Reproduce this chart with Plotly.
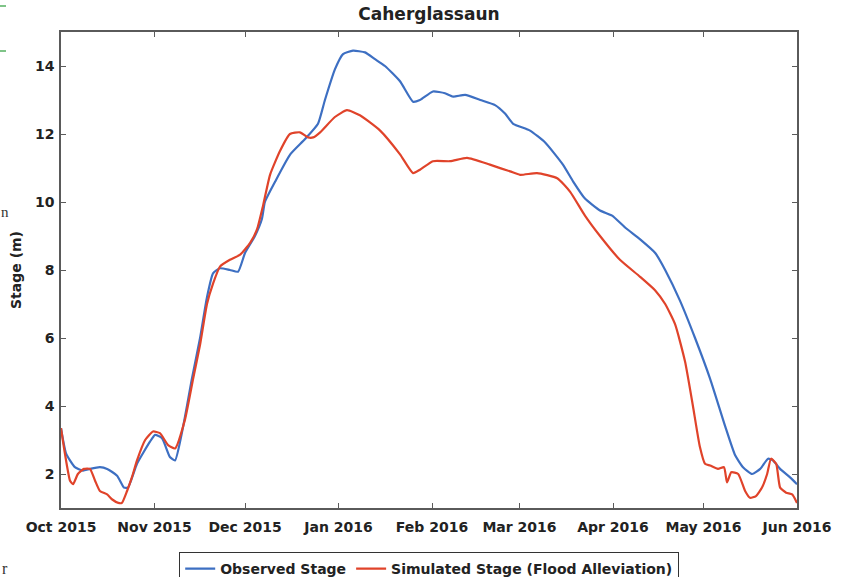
import pandas as pd
import plotly.graph_objects as go

# Days since 1 Oct 2015 and stage (m) for each series
start = pd.Timestamp("2015-10-01")

obs_day = [0, 1.7, 4.6, 7.3, 9.6, 12.9, 15.3, 18.6, 20.9, 22.2, 25.2, 29.5, 31.2, 33.5,
           36.1, 37.8, 40.5, 43.4, 46.1, 48.4, 50.4, 52.7, 56, 58.7, 61, 64.3, 66.6,
           67.6, 71, 76, 80.9, 85.2, 87.5, 90.8, 93.5, 96.8, 100.8, 104.1, 107.4,
           112.4, 116.7, 119, 123.3, 127.3, 130, 134, 139, 143.9, 147.2, 149.9, 155.5,
           160.5, 166.4, 169.8, 173.7, 178.7, 182.7, 187, 192, 197, 200.3, 205.2,
           210.2, 215.2, 220.2, 223.5, 226.1, 229.1, 231.8, 234.4, 236, 238.4, 241.7, 244]
obs_stage = [3.35, 2.6, 2.2, 2.1, 2.15, 2.2, 2.15, 1.95, 1.6, 1.6, 2.3, 2.95, 3.15, 3.05,
             2.5, 2.4, 3.4, 4.8, 6.0, 7.2, 7.9, 8.05, 8.0, 7.95, 8.5, 9.0, 9.5,
             10.0, 10.6, 11.4, 11.85, 12.3, 13.0, 13.9, 14.35, 14.45, 14.4, 14.2, 14.0,
             13.55, 12.95, 13.0, 13.25, 13.2, 13.1, 13.15, 13.0, 12.85, 12.6, 12.3, 12.1,
             11.75, 11.1, 10.6, 10.1, 9.75, 9.6, 9.25, 8.9, 8.5, 8.0, 7.1,
             6.0, 4.8, 3.4, 2.55, 2.2, 2.0, 2.15, 2.45, 2.4, 2.15, 1.9, 1.7]

sim_day = [0, 1.3, 3, 4, 5.6, 7.6, 9.6, 11.3, 12.9, 15.3, 17, 19, 20.2, 21.9, 23.5,
           25.2, 27.9, 30.5, 32.8, 35.5, 37.8, 41.1, 43.8, 46.1, 48.4, 50.4, 52.7, 56,
           59.4, 62.7, 65, 67, 69.3, 72.6, 75.9, 79.2, 81.9, 83.6, 85.9, 90.8, 94.8,
           99.1, 105.8, 112.4, 116.7, 119, 123.3, 129, 134.6, 142.2, 148.9, 152.2, 157.8,
           164.5, 168.8, 173.7, 178.7, 185.3, 192, 197, 200.3, 203.6, 206.9, 209.5,
           211.8, 213.5, 215.2, 217.8, 219.8, 220.8, 222.2, 224.5, 226.8, 228.4, 230.4, 232.4,
           234.1, 235.4, 237.1, 238.4, 240.4, 242.4, 244]
sim_stage = [3.35, 2.6, 1.8, 1.7, 2.0, 2.15, 2.15, 1.8, 1.5, 1.4, 1.25, 1.15, 1.15, 1.5,
             1.9, 2.4, 3.0, 3.25, 3.2, 2.85, 2.75, 3.6, 4.8, 5.8, 7.0, 7.6, 8.1, 8.3,
             8.45, 8.8, 9.2, 9.9, 10.8, 11.5, 12.0, 12.05, 11.9, 11.9, 12.05, 12.5, 12.7,
             12.55, 12.1, 11.4, 10.85, 10.95, 11.2, 11.2, 11.3, 11.1, 10.9, 10.8, 10.85,
             10.7, 10.3, 9.6, 9.0, 8.3, 7.8, 7.4, 7.0, 6.4, 5.3, 4.0,
             2.8, 2.3, 2.25, 2.15, 2.2, 1.75, 2.05, 2.0, 1.5, 1.3, 1.35, 1.6,
             2.0, 2.45, 2.3, 1.6, 1.45, 1.4, 1.15]

month_ticks = ["2015-10-01", "2015-11-01", "2015-12-01", "2016-01-01", "2016-02-01",
               "2016-03-01", "2016-04-01", "2016-05-01", "2016-06-01"]
month_labels = ["Oct 2015", "Nov 2015", "Dec 2015", "Jan 2016", "Feb 2016",
                "Mar 2016", "Apr 2016", "May 2016", "Jun 2016"]
stage_ticks = [2, 4, 6, 8, 10, 12, 14]


def to_dates(days):
    return [start + pd.Timedelta(days=d) for d in days]


BLUE = "#3d6fc2"
RED = "#e0432a"
FONT = "DejaVu Sans"

fig = go.Figure()
fig.add_trace(go.Scatter(x=to_dates(obs_day), y=obs_stage, mode="lines",
                         name="<b>Observed Stage</b>",
                         line=dict(color=BLUE, width=2.2, shape="spline", smoothing=0.5)))
fig.add_trace(go.Scatter(x=to_dates(sim_day), y=sim_stage, mode="lines",
                         name="<b>Simulated Stage (Flood Alleviation)</b>",
                         line=dict(color=RED, width=2.2, shape="spline", smoothing=0.5)))

axis_common = dict(showline=True, mirror="ticks", linecolor="#5a5a5a", linewidth=1.5,
                   ticks="inside", ticklen=5, tickwidth=1.2, tickcolor="#5a5a5a",
                   showgrid=False, zeroline=False,
                   tickfont=dict(family=FONT, size=14, color="#222222"))

fig.update_xaxes(range=[month_ticks[0], month_ticks[-1]], tickvals=month_ticks,
                 ticktext=[f"<b>{t}</b>" for t in month_labels], ticklabelstandoff=5,
                 **axis_common)
fig.update_yaxes(range=[1, 15], tickvals=stage_ticks,
                 ticktext=[f"<b>{v}</b>" for v in stage_ticks], ticklabelstandoff=2,
                 title=dict(text="<b>Stage (m)</b>", font=dict(family=FONT, size=14, color="#222222"),
                            standoff=10),
                 **axis_common)

fig.update_layout(
    width=841, height=577,
    margin=dict(l=61, r=44, t=32, b=69, autoexpand=False),
    paper_bgcolor="white", plot_bgcolor="white",
    title=dict(text="<b>Caherglassaun</b>", x=0.5, xanchor="center", xref="paper",
               y=1 - 14 / 577, yanchor="middle",
               font=dict(family=FONT, size=17, color="#222222")),
    legend=dict(orientation="h", x=0.5, xanchor="center", y=-0.092, yanchor="top",
                bordercolor="#333333", borderwidth=1.2, bgcolor="white",
                font=dict(family=FONT, size=14, color="#222222")),
    showlegend=True,
)

# small marks along the left page edge
for ypx in (6, 51):
    fig.add_shape(type="line", xref="paper", yref="paper",
                  x0=(0 - 61) / 736, x1=(6 - 61) / 736,
                  y0=(508 - ypx) / 476, y1=(508 - ypx) / 476,
                  line=dict(color="#55b060", width=1.5))
fig.add_annotation(text="n", xref="paper", yref="paper", x=(-1 - 61) / 736, y=(508 - 212) / 476,
                   xanchor="left", yanchor="middle", showarrow=False,
                   font=dict(family="Liberation Serif", size=15, color="#333333"))
fig.add_annotation(text="r", xref="paper", yref="paper", x=(0 - 61) / 736, y=(508 - 568) / 476,
                   xanchor="left", yanchor="middle", showarrow=False,
                   font=dict(family="Liberation Serif", size=16, color="#333333"))

fig.write_html("out.html")
